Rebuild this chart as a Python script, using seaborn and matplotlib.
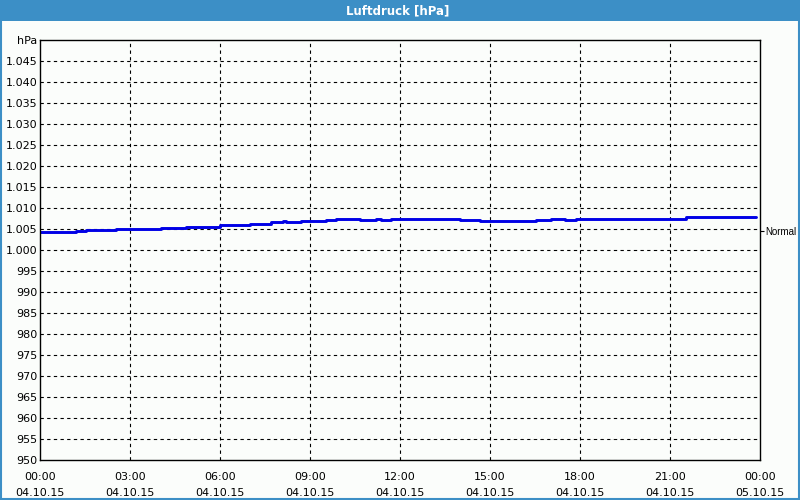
import matplotlib
matplotlib.use("Agg")
import matplotlib.pyplot as plt
from matplotlib.patches import Rectangle
import seaborn as sns
import pandas as pd

# ---- data ----
hours = [0.0, 1.2, 1.53, 2.53, 4.03, 4.87, 6.0, 7.0, 7.2, 7.7, 8.1, 8.2, 8.7,
         9.53, 9.87, 10.67, 11.2, 11.37, 11.7, 14.0, 14.67, 16.53, 17.03, 17.5,
         17.87, 20.2, 20.83, 21.2, 21.53, 23.87]
pressure = [1004.4, 1004.6, 1004.8, 1005.1, 1005.3, 1005.5, 1005.9, 1006.1, 1006.3,
            1006.6, 1006.8, 1006.6, 1006.8, 1007.05, 1007.3, 1007.05, 1007.3, 1007.05,
            1007.3, 1007.05, 1006.8, 1007.05, 1007.3, 1007.05, 1007.3, 1007.5, 1007.3,
            1007.5, 1007.75, 1007.75]
y_ticks = list(range(950, 1051, 5))
y_labels = ["950", "955", "960", "965", "970", "975", "980", "985", "990", "995",
            "1.000", "1.005", "1.010", "1.015", "1.020", "1.025", "1.030", "1.035",
            "1.040", "1.045", "hPa"]
x_ticks = [0, 3, 6, 9, 12, 15, 18, 21, 24]
x_labels = ["00:00\n04.10.15", "03:00\n04.10.15", "06:00\n04.10.15", "09:00\n04.10.15",
            "12:00\n04.10.15", "15:00\n04.10.15", "18:00\n04.10.15", "21:00\n04.10.15",
            "00:00\n05.10.15"]
normal_level = 1004.5
title = "Luftdruck [hPa]"

sns.set_style("white")
plt.rcParams["font.family"] = ["DejaVu Sans"]

bg = "#fbfdfb"
blue_bar = "#3c8fc6"

fig = plt.figure(figsize=(8, 5), dpi=100, facecolor=bg)
ax = fig.add_axes([40 / 800, 40 / 500, 720 / 800, 420 / 500])
ax.set_facecolor(bg)

df = pd.DataFrame({"h": hours, "p": pressure})
sns.lineplot(data=df, x="h", y="p", ax=ax, color="#0000e6", linewidth=2.1,
             drawstyle="steps-post", estimator=None, sort=False)

ax.set_xlim(0, 24)
ax.set_ylim(950, 1050)
ax.set_xticks(x_ticks)
ax.set_xticklabels(x_labels, fontsize=8, linespacing=1.75)
ax.set_xticks(range(0, 25), minor=True)
ax.set_yticks(y_ticks)
ax.set_yticklabels(y_labels, fontsize=8)
ax.set_xlabel("")
ax.set_ylabel("")

for v in y_ticks[1:-1]:
    ax.axhline(v, color="black", linewidth=0.8, linestyle=(0, (3, 3)), zorder=0.5)
for v in x_ticks[1:-1]:
    ax.axvline(v, color="black", linewidth=0.8, linestyle=(0, (3, 3)), zorder=0.5)

for s in ax.spines.values():
    s.set_visible(True)
    s.set_color("black")
    s.set_linewidth(1.0)

ax.tick_params(axis="x", which="both", direction="out", length=3, width=0.8,
               colors="black", pad=9)
ax.tick_params(axis="x", which="major", length=0)
ax.tick_params(axis="y", which="both", length=0, pad=2, colors="black")

# right-hand "Normal" marker
ax2 = ax.twinx()
ax2.set_ylim(950, 1050)
ax2.set_yticks([normal_level])
ax2.set_yticklabels(["Normal"], fontsize=7, family=["Liberation Sans", "DejaVu Sans"])
ax2.tick_params(axis="y", direction="out", length=3, width=0.8, pad=1, colors="black")
for s in ax2.spines.values():
    s.set_visible(False)

# title bar and frame
fig.patches.append(Rectangle((0, 1 - 21 / 500), 1, 21 / 500, transform=fig.transFigure,
                             facecolor=blue_bar, edgecolor="none", zorder=0))
fig.patches.append(Rectangle((0.6 / 800, 0.6 / 500), 1 - 1.6 / 800, 1 - 1.6 / 500,
                             transform=fig.transFigure, facecolor="none",
                             edgecolor=blue_bar, linewidth=1.5, zorder=1))
fig.text(398 / 800, 1 - 11 / 500, title, color="white", fontsize=8.5,
         fontweight="bold", ha="center", va="center")

fig.savefig("out.png", dpi=100, facecolor=bg)
